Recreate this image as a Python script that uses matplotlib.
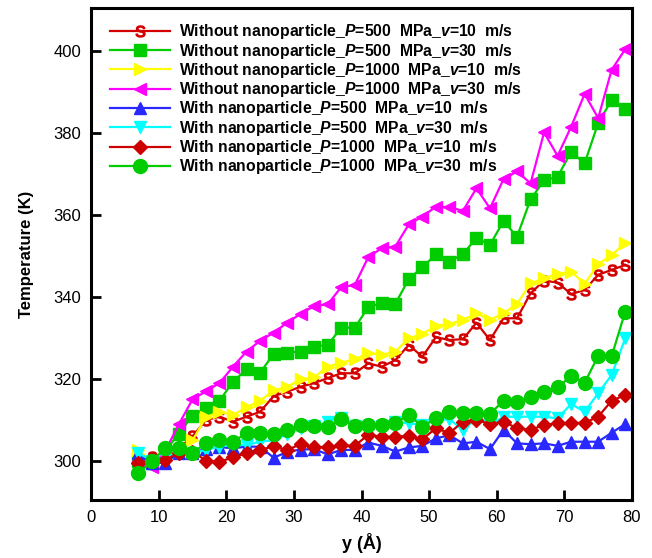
import numpy as np
import matplotlib
matplotlib.use('Agg')
import matplotlib.pyplot as plt

plt.rcParams['font.family'] = ['Liberation Sans', 'DejaVu Sans']
plt.rcParams['mathtext.fontset'] = 'custom'
plt.rcParams['mathtext.it'] = 'Liberation Sans:bold:italic'
plt.rcParams['mathtext.rm'] = 'Liberation Sans:bold'
plt.rcParams['mathtext.bf'] = 'Liberation Sans:bold'
plt.rcParams['mathtext.sf'] = 'Liberation Sans'

# positions along y (Angstrom)
y_pos = np.arange(7, 80, 2)

# Without nanoparticle
wo_p500_v10 = [299, 301, 302, 303, 306, 310, 310.8, 309.6, 310.8, 312, 315.8,
               316.9, 318.1, 319, 320.2, 321.4, 321.4, 323.8, 323, 324.6, 328.3, 325.4, 330.2, 329.5,
               329.7, 333.7, 329.5, 334.8, 334.8, 340.9, 344, 343.5, 340.7, 341.7, 345.4, 346.6, 347.8]
wo_p500_v30 = [300, 299.5, 302.5, 306.7, 311, 312.9, 314.7, 319.3, 322.4, 321.5, 326.1,
               326.4, 326.7, 327.9, 328.3, 332.5, 332.5, 337.5, 338.5, 338.3, 344.4, 347.2, 350.4, 348.6,
               350.5, 354.3, 352.7, 358.5, 354.7, 363.8, 368.4, 369.3, 375.4, 372.6, 382.4, 388, 385.8]
wo_p1000_v10 = [302.7, 300, 302, 303, 305, 310.7, 312, 311.2, 313.1, 314.7, 317.2,
                318.1, 319.9, 320.4, 323, 324, 324.8, 326.3, 325.9, 326.7, 329.9, 331, 332.9, 333.4,
                334.4, 336, 334.4, 336, 338.3, 343.3, 344.6, 345.6, 346.2, 343.2, 348, 350.2, 353.2]
wo_p1000_v30 = [300, 298.5, 302.5, 309, 315, 317, 319, 323, 326.7, 329.3, 331.3,
                333.7, 335.9, 337.8, 338.2, 342.4, 342.9, 349.7, 351.9, 352.3, 357.7, 359.6, 362, 361.9,
                361, 366.5, 361.6, 368.7, 370.6, 367.7, 380.1, 374.4, 381.5, 389.5, 383.6, 395.4, 400.4]

# With nanoparticle
w_p500_v10 = [301.9, 299.5, 299.6, 302, 302, 303, 303.4, 303.1, 303.5, 303.5, 300.8,
              302.2, 302.8, 302.9, 301.6, 302.7, 302.7, 304.5, 303.7, 302.3, 303.3, 303.7, 305.5, 306.3,
              304.3, 304.7, 302.9, 307.6, 304.3, 304.1, 304.3, 303.7, 304.7, 304.7, 304.7, 306.9, 309]
w_p500_v30 = [302, 300, 301, 302.5, 302, 302.7, 303.5, 304, 303.9, 304.7, 305.1,
              306.5, 308, 308.5, 309.5, 310.6, 308.5, 308, 308.5, 309.5, 309.2, 308.8, 310, 310.2,
              307.6, 310.4, 308.8, 310.8, 310.8, 310.8, 310.8, 310.4, 313.9, 312, 316.5, 321, 329.9]
w_p1000_v10 = [299.4, 300.4, 300.2, 302, 302.3, 300.1, 299.8, 300.9, 301.9, 302.7, 303.6,
               302.7, 304.1, 303.3, 303.5, 303.8, 303.7, 306.4, 305.9, 305.9, 306.1, 305.3, 308, 306.8,
               309.6, 310, 309, 309.6, 308, 307.6, 308.8, 309.2, 309.3, 309.3, 310.8, 314.7, 316.1]
w_p1000_v30 = [297, 300, 303.1, 303.1, 302, 304.3, 305.1, 304.6, 306.9, 306.9, 306.7,
               307.6, 308.8, 308.5, 308.4, 310.2, 308.6, 308.8, 308.8, 309.3, 311.2, 308.4, 310.4, 311.9,
               311.6, 311.6, 311.5, 314.7, 314.5, 315.7, 316.9, 318, 320.7, 319.1, 325.6, 325.6, 336.4]

labels = [
    r'Without nanoparticle_$P$=500  MPa_$v$=10  m/s',
    r'Without nanoparticle_$P$=500  MPa_$v$=30  m/s',
    r'Without nanoparticle_$P$=1000  MPa_$v$=10  m/s',
    r'Without nanoparticle_$P$=1000  MPa_$v$=30  m/s',
    r'With nanoparticle_$P$=500  MPa_$v$=10  m/s',
    r'With nanoparticle_$P$=500  MPa_$v$=30  m/s',
    r'With nanoparticle_$P$=1000  MPa_$v$=10  m/s',
    r'With nanoparticle_$P$=1000  MPa_$v$=30  m/s',
]
series = [wo_p500_v10, wo_p500_v30, wo_p1000_v10, wo_p1000_v30,
          w_p500_v10, w_p500_v30, w_p1000_v10, w_p1000_v30]
colors = ['#D40000', '#00CC00', '#FFFF00', '#FF00FF',
          '#2828FF', '#00FFFF', '#CC0000', '#00CC00']
markers = [r'$\mathsf{S}$', 's', '>', '<', '^', 'v', 'D', 'o']
msizes = [8, 8, 9, 9, 8.5, 8.5, 7.5, 10]

fig = plt.figure(figsize=(6.52, 5.58), dpi=100)
ax = fig.add_axes([0.1396, 0.104, 0.8297, 0.882])

for vals, lab, c, m, ms in zip(series, labels, colors, markers, msizes):
    ax.plot(y_pos, vals, color=c, marker=m, markersize=ms, markeredgecolor=c,
            markerfacecolor=c, linewidth=1.6, label=lab)

ax.set_xlim(0, 80)
ax.set_ylim(290.5, 410.5)
ax.set_xticks(np.arange(0, 81, 10))
ax.set_yticks(np.arange(300, 401, 20))
ax.tick_params(direction='in', length=7, width=2, labelsize=12, pad=7)
for sp in ax.spines.values():
    sp.set_linewidth(2.2)

ax.set_xlabel('y (Å)', fontsize=13, fontweight='bold', labelpad=6)
ax.set_ylabel('Temperature (K)', fontsize=12, fontweight='bold', labelpad=14)

ax.legend(loc='upper left', bbox_to_anchor=(0.015, 0.993), frameon=False,
          prop={'weight': 'bold', 'size': 11.3}, handlelength=3.8, numpoints=1,
          labelspacing=0.02, handletextpad=0.6, borderaxespad=0.3)

fig.savefig('out.png', dpi=100)
